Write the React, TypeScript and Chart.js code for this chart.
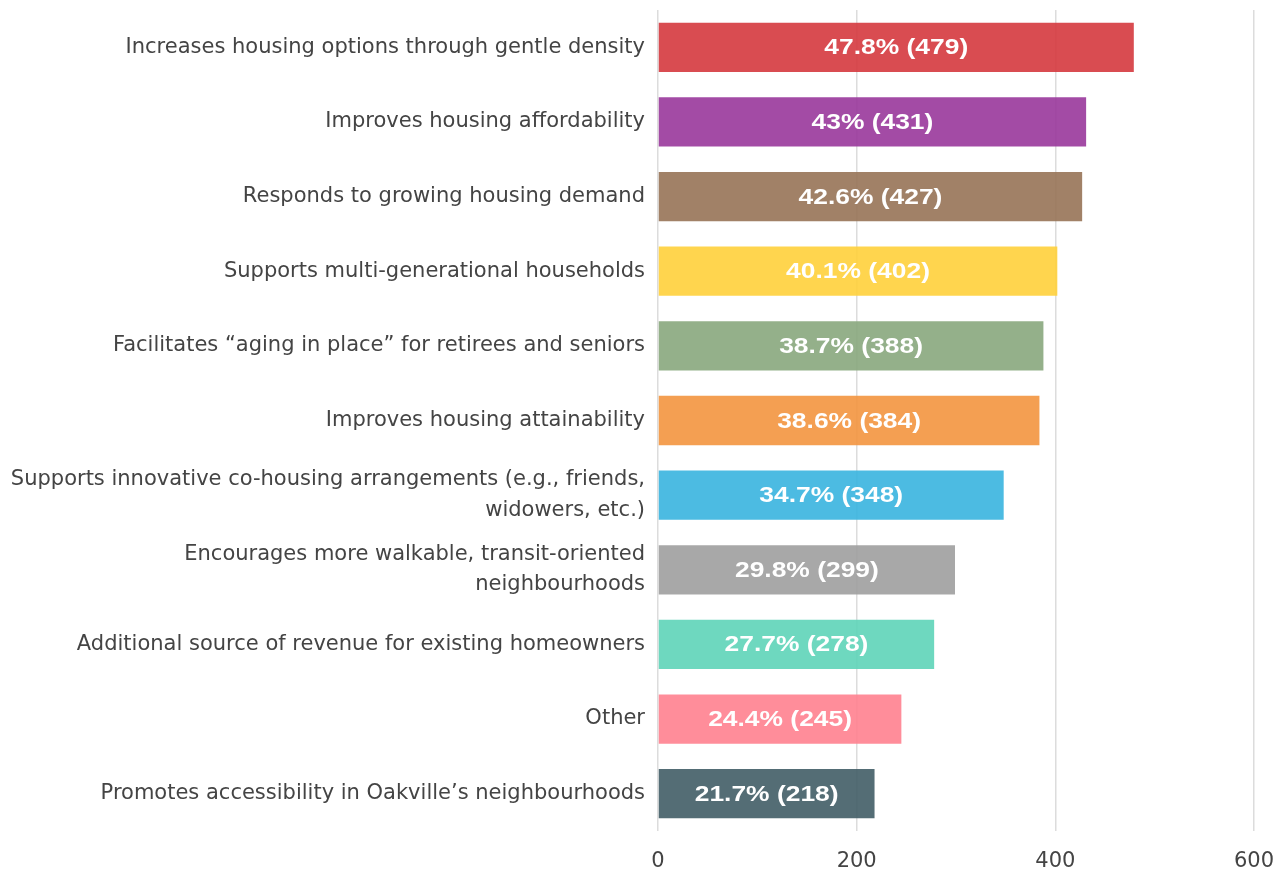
import React, { useEffect, useRef } from "react";
import { Chart, registerables } from "chart.js";

Chart.register(...registerables);

const categories: (string | string[])[] = [
  "Increases housing options through gentle density",
  "Improves housing affordability",
  "Responds to growing housing demand",
  "Supports multi-generational households",
  "Facilitates \u201caging in place\u201d for retirees and seniors",
  "Improves housing attainability",
  ["Supports innovative co-housing arrangements (e.g., friends,", "widowers, etc.)"],
  ["Encourages more walkable, transit-oriented", "neighbourhoods"],
  "Additional source of revenue for existing homeowners",
  "Other",
  "Promotes accessibility in Oakville\u2019s neighbourhoods",
];

const counts = [479, 431, 427, 402, 388, 384, 348, 299, 278, 245, 218];
const percents = [47.8, 43, 42.6, 40.1, 38.7, 38.6, 34.7, 29.8, 27.7, 24.4, 21.7];

const barColors = [
  "rgba(213,57,62,0.9)",
  "rgba(153,55,155,0.9)",
  "rgba(151,115,86,0.9)",
  "rgba(255,208,59,0.9)",
  "rgba(136,167,125,0.9)",
  "rgba(243,149,63,0.9)",
  "rgba(56,180,223,0.9)",
  "rgba(159,159,159,0.9)",
  "rgba(94,212,184,0.9)",
  "rgba(255,129,143,0.9)",
  "rgba(65,93,102,0.9)",
];

const xTicks = [0, 200, 400, 600];

const labelPlugin = {
  id: "barLabels",
  afterDatasetsDraw(chart: any) {
    const ctx = chart.ctx;
    const meta = chart.getDatasetMeta(0);
    ctx.save();
    ctx.fillStyle = "#ffffff";
    ctx.font = "bold 22px 'Liberation Sans', Arial, sans-serif";
    ctx.textAlign = "center";
    ctx.textBaseline = "middle";
    meta.data.forEach((bar: any, i: number) => {
      const cx = (bar.x + bar.base) / 2;
      const cy = bar.y + 1;
      ctx.save();
      ctx.translate(cx, cy);
      ctx.scale(1.2, 1);
      ctx.fillText(`${percents[i]}% (${counts[i]})`, 0, 0);
      ctx.restore();
    });
    ctx.restore();
  },
};

export default function App() {
  const ref = useRef<HTMLCanvasElement | null>(null);

  useEffect(() => {
    if (!ref.current) return;
    const chart = new Chart(ref.current, {
      type: "bar",
      data: {
        labels: categories,
        datasets: [
          {
            data: counts,
            backgroundColor: barColors,
            borderWidth: 0,
            barPercentage: 0.66,
            categoryPercentage: 1,
          },
        ],
      },
      options: {
        indexAxis: "y",
        responsive: false,
        animation: false,
        layout: { padding: { top: 10, right: 24, bottom: 0, left: 0 } },
        plugins: {
          legend: { display: false },
          tooltip: { enabled: false },
        },
        scales: {
          x: {
            min: 0,
            max: 600,
            afterBuildTicks: (scale: any) => {
              scale.ticks = xTicks.map((v) => ({ value: v }));
            },
            afterFit: (scale: any) => {
              scale.height = 42;
              scale.paddingLeft = 0;
              scale.paddingRight = 0;
            },
            grid: { color: "#dcdcdc", lineWidth: 1.5, drawTicks: false },
            border: { display: false },
            ticks: {
              padding: 18,
              color: "#444444",
              font: { family: "'DejaVu Sans', sans-serif", size: 21, weight: "normal" },
              maxRotation: 0,
            },
          },
          y: {
            grid: { display: false },
            border: { display: false },
            afterFit: (scale: any) => {
              scale.width = 658;
              scale.paddingTop = 0;
              scale.paddingBottom = 0;
            },
            ticks: {
              padding: 5,
              color: "#444444",
              autoSkip: false,
              font: { family: "'DejaVu Sans', sans-serif", size: 21, weight: "normal", lineHeight: 1.45 },
            },
          },
        },
      },
      plugins: [labelPlugin],
    });
    return () => chart.destroy();
  }, []);

  return (
    <div style={{ position: "fixed", left: 0, top: 0, width: 1278, height: 873, background: "#ffffff" }}>
      <canvas ref={ref} width={1278} height={873} style={{ display: "block" }} />
    </div>
  );
}
